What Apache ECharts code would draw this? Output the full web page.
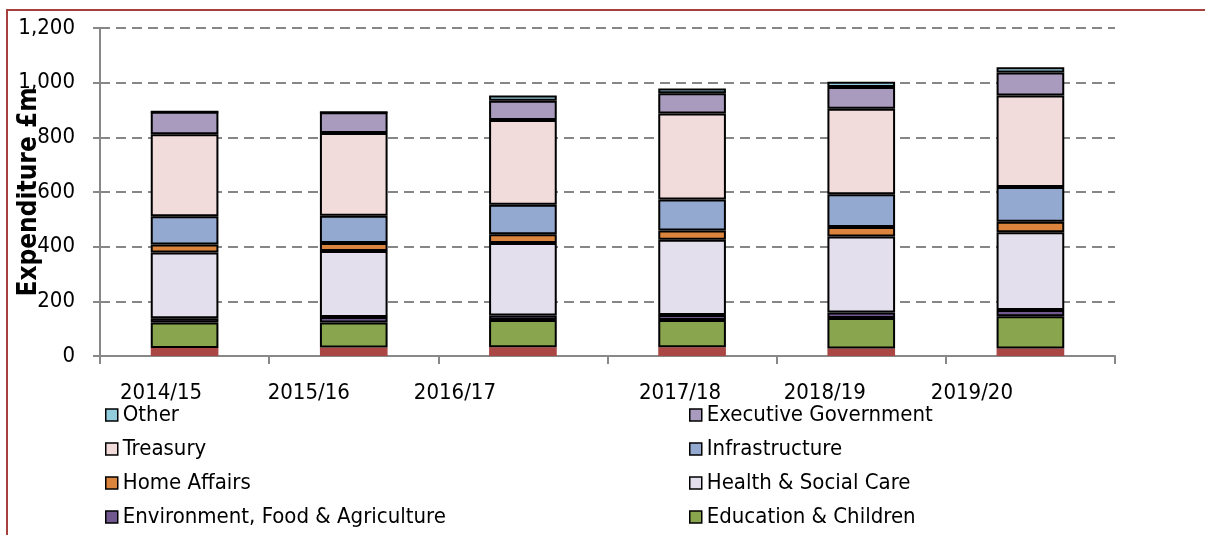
<!DOCTYPE html>
<html>
<head>
<meta charset="utf-8">
<script src="https://cdn.jsdelivr.net/npm/echarts@6/dist/echarts.min.js"></script>
<style>
  html, body { margin: 0; padding: 0; background: #fff; }
  #main { width: 1205px; height: 535px; }
</style>
</head>
<body>
<div id="main"></div>
<script>
// categories and values (£m)
var years = ['2014/15', '2015/16', '2016/17', '2017/18', '2018/19', '2019/20'];
var yTicks = [0, 200, 400, 600, 800, 1000, 1200];

var bottomRed = [29, 31, 32, 32, 27, 27];
var education = [94, 92, 100, 100, 112, 118];
var environment = [15, 20, 16, 18, 20, 23];
var health = [241, 241, 265, 275, 278, 285];
var homeAffairs = [29, 29, 32, 34, 35, 38];
var infrastructure = [103, 100, 108, 114, 120, 127];
var treasury = [300, 303, 310, 314, 313, 335];
var executive = [83, 76, 71, 74, 79, 84];
var other = [0, 0, 19, 18, 19, 19];

// spacer width (px) after each year label, pulls the text left like in the picture
var labelShift = [47, 90, 136, 24, 73, 117];

var FONT = '"DejaVu Sans Condensed", "DejaVu Sans", sans-serif';

function mkSeries(name, data, color, border) {
  return {
    name: name,
    type: 'bar',
    stack: 'total',
    barWidth: '40%',
    data: data,
    itemStyle: {
      color: color,
      borderColor: '#000',
      borderWidth: border
    },
    emphasis: { disabled: true }
  };
}

var rich = {
  t: { fontSize: 22, fontFamily: FONT, color: '#000' }
};
labelShift.forEach(function (p, i) {
  rich['s' + i] = { width: p, fontSize: 22 };
});

function mkLegend(left, names) {
  return {
    orient: 'vertical',
    left: left,
    top: 398,
    height: 200,
    itemWidth: 12,
    itemHeight: 12,
    itemGap: 10,
    icon: 'rect',
    selectedMode: false,
    textStyle: { fontSize: 22, fontFamily: FONT, color: '#000', lineHeight: 24 },
    itemStyle: { borderColor: '#000', borderWidth: 1.5 },
    data: names
  };
}

var chart = echarts.init(document.getElementById('main'), null, { renderer: 'canvas' });

var option = {
  animation: false,
  backgroundColor: '#fff',
  textStyle: { fontFamily: FONT },
  graphic: [{
    type: 'rect',
    shape: { x: 7, y: 10, width: 1400, height: 800 },
    style: { fill: null, stroke: '#A5403C', lineWidth: 2 },
    silent: true
  }],
  grid: { left: 100, right: 90, top: 28, bottom: 179, containLabel: false, outerBoundsMode: 'none' },
  legend: [
    mkLegend(100, ['Other', 'Treasury', 'Home Affairs', 'Environment, Food & Agriculture']),
    mkLegend(684, ['Executive Government', 'Infrastructure', 'Health & Social Care', 'Education & Children'])
  ],
  xAxis: {
    type: 'category',
    data: years,
    boundaryGap: true,
    axisLine: { lineStyle: { color: '#888', width: 2 } },
    axisTick: { show: true, length: 8, lineStyle: { color: '#888', width: 2 } },
    axisLabel: {
      margin: 26,
      formatter: function (v, i) { return '{t|' + v + '}{s' + i + '| }'; },
      rich: rich
    }
  },
  yAxis: {
    type: 'value',
    min: yTicks[0],
    max: yTicks[yTicks.length - 1],
    interval: 200,
    name: 'Expenditure £m',
    nameLocation: 'middle',
    nameGap: 58,
    nameMoveOverlap: false,
    nameTextStyle: { fontSize: 26, fontWeight: 'bold', fontFamily: FONT, color: '#000' },
    axisLine: { show: true, lineStyle: { color: '#888', width: 2 } },
    axisTick: { show: true, length: 7, lineStyle: { color: '#888', width: 2 } },
    axisLabel: {
      margin: 25,
      fontSize: 22,
      fontFamily: FONT,
      color: '#000',
      formatter: function (v) { return v.toLocaleString('en-GB'); }
    },
    splitLine: { show: true, lineStyle: { color: '#868686', width: 2, type: [10, 6] } }
  },
  series: [
    mkSeries('Unlisted', bottomRed, '#AA4643', 0),
    mkSeries('Education & Children', education, '#89A54E', 2),
    mkSeries('Environment, Food & Agriculture', environment, '#71588F', 2),
    mkSeries('Health & Social Care', health, '#E4DFEC', 2),
    mkSeries('Home Affairs', homeAffairs, '#DB843D', 2),
    mkSeries('Infrastructure', infrastructure, '#93A9CF', 2),
    mkSeries('Treasury', treasury, '#F2DCDB', 2),
    mkSeries('Executive Government', executive, '#A99BBD', 2),
    mkSeries('Other', other, '#93CDDD', 2)
  ]
};

chart.setOption(option);
</script>
</body>
</html>
